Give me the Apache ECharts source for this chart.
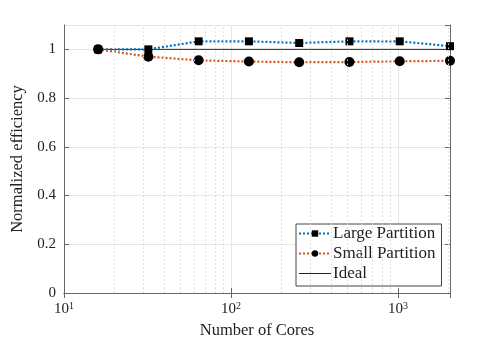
<!DOCTYPE html>
<html>
<head>
<meta charset="utf-8">
<script src="https://cdn.jsdelivr.net/npm/echarts@6/dist/echarts.min.js"></script>
<style>
  html, body { margin: 0; padding: 0; background: #fff; }
  #chart { width: 498px; height: 337px; }
</style>
</head>
<body>
<div id="chart"></div>
<script>
// Data
const cores = [16, 32, 64, 128, 256, 512, 1024, 2048]
const largePartition = [1.0, 1.0, 1.033, 1.033, 1.026, 1.033, 1.033, 1.013]
const smallPartition = [1.0, 0.970, 0.955, 0.950, 0.947, 0.948, 0.951, 0.953]
const ideal = [1, 1, 1, 1, 1, 1, 1, 1]
const minorGridX = [20, 30, 40, 50, 60, 70, 80, 90, 200, 300, 400, 500, 600, 700, 800, 900, 2000]

const FONT = 'Liberation Serif'
const AXIS_COLOR = '#666'
const TEXT_COLOR = '#222'

const pair = arr => cores.map((c, i) => [c, arr[i]])

const supLabel = v => {
  const p = Math.round(Math.log10(v))
  if (Math.abs(Math.pow(10, p) - v) > 1e-6) return ''
  return '10{sup|' + p + '}'
}

const chart = echarts.init(document.getElementById('chart'))

chart.setOption({
  animation: false,
  textStyle: { fontFamily: FONT },
  grid: { left: 64, top: 25, right: 48, bottom: 44, outerBoundsMode: 'none', containLabel: false },
  legend: {
    orient: 'vertical',
    left: 296,
    top: 224,
    itemWidth: 32,
    itemHeight: 8,
    itemGap: 3,
    padding: [1, 6, 4, 2],
    borderColor: '#444',
    borderWidth: 1,
    borderRadius: 0,
    backgroundColor: '#fff',
    textStyle: { fontFamily: FONT, fontSize: 17, lineHeight: 16, color: TEXT_COLOR, padding: [0, 0, 0, -3] },
    data: [
      'Large Partition',
      'Small Partition',
      { name: 'Ideal', itemStyle: { color: 'transparent', borderWidth: 0 }, lineStyle: { width: 1 } }
    ]
  },
  xAxis: [{
    type: 'log',
    logBase: 10,
    min: 10,
    max: 2048,
    name: 'Number of Cores',
    nameLocation: 'middle',
    nameGap: 25,
    nameTextStyle: { fontFamily: FONT, fontSize: 16.5, color: TEXT_COLOR },
    axisLine: { show: true, lineStyle: { color: AXIS_COLOR, width: 1 } },
    axisTick: { inside: true, length: 5, lineStyle: { color: AXIS_COLOR } },
    axisLabel: {
      formatter: supLabel,
      color: TEXT_COLOR,
      fontFamily: FONT,
      fontSize: 15,
      margin: 8,
      rich: { sup: { fontSize: 10, verticalAlign: 'top', padding: [0, 0, 7, 0], fontFamily: FONT, color: TEXT_COLOR } }
    },
    splitLine: { show: true, lineStyle: { color: '#e6e6e6', width: 1 } }
  }, {
    type: 'log',
    logBase: 10,
    min: 10,
    max: 2048,
    position: 'top',
    axisLine: { show: true, lineStyle: { color: AXIS_COLOR, width: 1 } },
    axisTick: { inside: true, length: 5, lineStyle: { color: AXIS_COLOR } },
    axisLabel: { show: false },
    splitLine: { show: false }
  }],
  yAxis: [{
    type: 'value',
    min: 0,
    max: 1.1,
    interval: 0.2,
    name: 'Normalized efficiency',
    nameLocation: 'middle',
    nameGap: 30,
    nameTextStyle: { fontFamily: FONT, fontSize: 16.5, color: TEXT_COLOR },
    axisLine: { show: true, lineStyle: { color: AXIS_COLOR, width: 1 } },
    axisTick: { show: true, inside: true, length: 5, lineStyle: { color: AXIS_COLOR } },
    axisLabel: { showMaxLabel: false, color: TEXT_COLOR, fontFamily: FONT, fontSize: 15, margin: 8 },
    splitLine: { show: true, lineStyle: { color: '#e6e6e6', width: 1 } }
  }, {
    type: 'value',
    min: 0,
    max: 1.1,
    interval: 0.2,
    position: 'right',
    axisLine: { show: true, lineStyle: { color: AXIS_COLOR, width: 1 } },
    axisTick: { show: true, inside: true, length: 5, lineStyle: { color: AXIS_COLOR } },
    axisLabel: { show: false },
    splitLine: { show: false }
  }],
  series: [{
    name: 'minor-grid',
    type: 'line',
    data: [],
    silent: true,
    markLine: {
      silent: true,
      symbol: 'none',
      label: { show: false },
      lineStyle: { type: [1.5, 2.5], color: '#d6d6d6', width: 1 },
      data: minorGridX.map(v => ({ xAxis: v }))
    }
  }, {
    name: 'Ideal',
    type: 'line',
    data: pair(ideal),
    symbol: 'none',
    lineStyle: { color: '#222', width: 1 },
    itemStyle: { color: '#222' },
    z: 3
  }, {
    name: 'Large Partition',
    type: 'line',
    data: pair(largePartition),
    symbol: 'rect',
    symbolSize: 8,
    lineStyle: { color: '#0072BD', width: 2.2, type: [2, 2] },
    itemStyle: { color: '#000' },
    z: 4
  }, {
    name: 'Small Partition',
    type: 'line',
    data: pair(smallPartition),
    symbol: 'circle',
    symbolSize: 10,
    lineStyle: { color: '#D95319', width: 2.2, type: [2, 2] },
    itemStyle: { color: '#000' },
    z: 4
  }]
})
</script>
</body>
</html>
